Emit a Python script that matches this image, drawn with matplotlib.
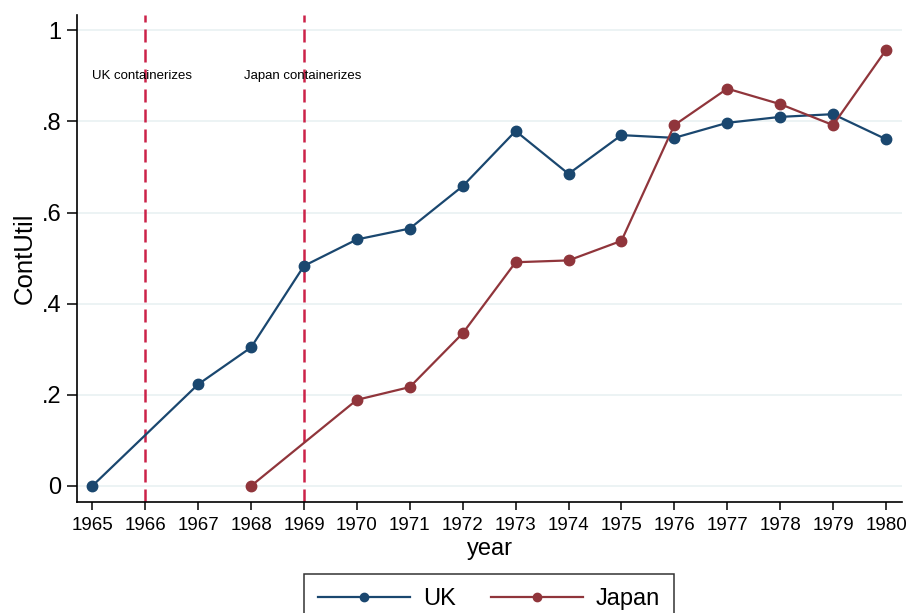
import matplotlib
matplotlib.use("Agg")
import matplotlib.pyplot as plt
import numpy as np

plt.rcParams['font.family'] = ['Liberation Sans', 'DejaVu Sans']

# Container utilisation by year
uk_years = [1965, 1967, 1968, 1969, 1970, 1971, 1972, 1973, 1974, 1975, 1976, 1977, 1978, 1979, 1980]
uk_util = [0.0, 0.223, 0.304, 0.483, 0.541, 0.565, 0.658, 0.779, 0.685, 0.770, 0.764, 0.797, 0.810, 0.816, 0.761]

japan_years = [1968, 1970, 1971, 1972, 1973, 1974, 1975, 1976, 1977, 1978, 1979, 1980]
japan_util = [0.0, 0.189, 0.217, 0.335, 0.491, 0.495, 0.538, 0.792, 0.872, 0.838, 0.792, 0.957]

events = [1966, 1969]
event_labels = ["UK containerizes", "Japan containerizes"]
event_label_x = [1965.0, 1967.87]
event_label_y = 0.9

x_ticks = list(range(1965, 1981))
y_ticks = [0, 0.2, 0.4, 0.6, 0.8, 1.0]
y_tick_labels = ["0", ".2", ".4", ".6", ".8", "1"]

UK_COLOR = "#1a476f"
JP_COLOR = "#90353b"
EVENT_COLOR = "#cc2249"
GRID_COLOR = "#eaf2f3"

fig = plt.figure(figsize=(9.08, 6.13), dpi=100)
ax = fig.add_axes([0.0848, 0.1816, 0.9086, 0.7939])

ax.set_xlim(1964.711, 1980.302)
ax.set_ylim(-0.0345, 1.0336)

for yv in y_ticks:
    ax.axhline(yv, color=GRID_COLOR, lw=1.3, zorder=0)

for ev in events:
    ax.axvline(ev, color=EVENT_COLOR, lw=1.8, ls=(0, (5.2, 2.8)), zorder=1)

ax.plot(uk_years, uk_util, color=UK_COLOR, lw=1.6, marker='o', ms=7.5, label="UK", zorder=3)
ax.plot(japan_years, japan_util, color=JP_COLOR, lw=1.6, marker='o', ms=7.5, label="Japan", zorder=3)

for xl, txt in zip(event_label_x, event_labels):
    ax.text(xl, event_label_y, txt, ha='left', va='center', fontsize=9.5, color='black', zorder=4)

ax.set_xticks(x_ticks)
ax.set_xticklabels([str(v) for v in x_ticks], fontsize=13.5)
ax.set_yticks(y_ticks)
ax.set_yticklabels(y_tick_labels, fontsize=17)
ax.tick_params(axis='x', direction='out', length=6, width=1.1, pad=5)
ax.tick_params(axis='y', direction='out', length=7, width=1.1, pad=4)

for side in ('top', 'right'):
    ax.spines[side].set_visible(False)
for side in ('left', 'bottom'):
    ax.spines[side].set_linewidth(1.2)
    ax.spines[side].set_color('black')

ax.set_xlabel("year", fontsize=17, labelpad=3)
ax.set_ylabel("ContUtil", fontsize=18.5, labelpad=4)

leg = fig.legend(loc='upper center', bbox_to_anchor=(0.5385, 0.0636), ncol=2,
                 fontsize=17, frameon=True, fancybox=False, handlelength=3.9,
                 columnspacing=1.5, borderpad=0.6, borderaxespad=0.0,
                 handletextpad=0.55, markerscale=0.8)
leg.get_frame().set_edgecolor('black')
leg.get_frame().set_linewidth(1.1)

fig.savefig("out.png", dpi=100, facecolor='white')
